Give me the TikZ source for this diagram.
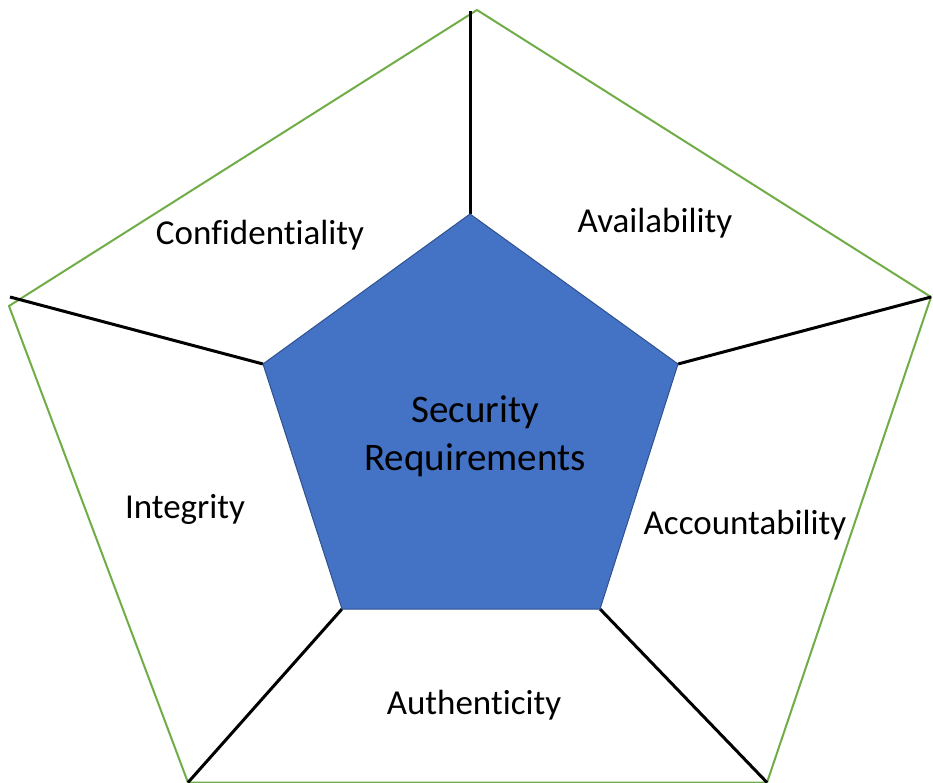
\documentclass[tikz,border=0pt]{standalone}
\usepackage{fontspec}
\setmainfont{Carlito}[Ligatures=NoCommon]
\definecolor{officeblue}{HTML}{4472C4}
\definecolor{blueedge}{HTML}{2F528F}
\definecolor{officegreen}{HTML}{70AD47}
\begin{document}
\begin{tikzpicture}[x=1pt,y=-1pt,
  spoke/.style={draw=black,line width=3pt},
  outer/.style={draw=officegreen,line width=2pt,line join=miter},
  core/.style={fill=officeblue,draw=blueedge,line width=1pt},
  lbl/.style={font=\fontsize{35}{42}\selectfont,text=black,inner sep=0pt},
  ctr/.style={font=\fontsize{39}{48}\selectfont,text=black,align=center,inner sep=0pt}]
\useasboundingbox (0,0) rectangle (933,783);
\clip (0,0) rectangle (933,783);
% outer vertices
\coordinate (oT) at (477,10);
\coordinate (oR) at (931,297);
\coordinate (oBR) at (767,782.5);
\coordinate (oBL) at (188,782.5);
\coordinate (oL) at (9,306);
% spoke outer ends
\coordinate (sT) at (470,11);
\coordinate (sL) at (10,297);
% inner vertices
\coordinate (iT) at (470,214);
\coordinate (iR) at (678,364);
\coordinate (iBR) at (600,609);
\coordinate (iBL) at (342,609);
\coordinate (iL) at (263,364);
\path[outer] (oT) -- (oR) -- (oBR) -- (oBL) -- (oL) -- cycle;
\draw[spoke] (iT) -- (sT);
\draw[spoke] (iR) -- (oR);
\draw[spoke] (iBR) -- (oBR);
\draw[spoke] (iBL) -- (oBL);
\draw[spoke] (iL) -- (sL);
\path[core] (iT) -- (iR) -- (iBR) -- (iBL) -- (iL) -- cycle;
\node[ctr] (center) at (475,436) {Security\\Requirements};
\node[lbl] (conf) at (260,235) {Confidentiality};
\node[lbl] (avail) at (655,223) {Availability};
\node[lbl] (acc) at (745,525) {Accountability};
\node[lbl] (integ) at (185,509) {Integrity};
\node[lbl] (auth) at (474,705) {Authenticity};
\end{tikzpicture}
\end{document}
